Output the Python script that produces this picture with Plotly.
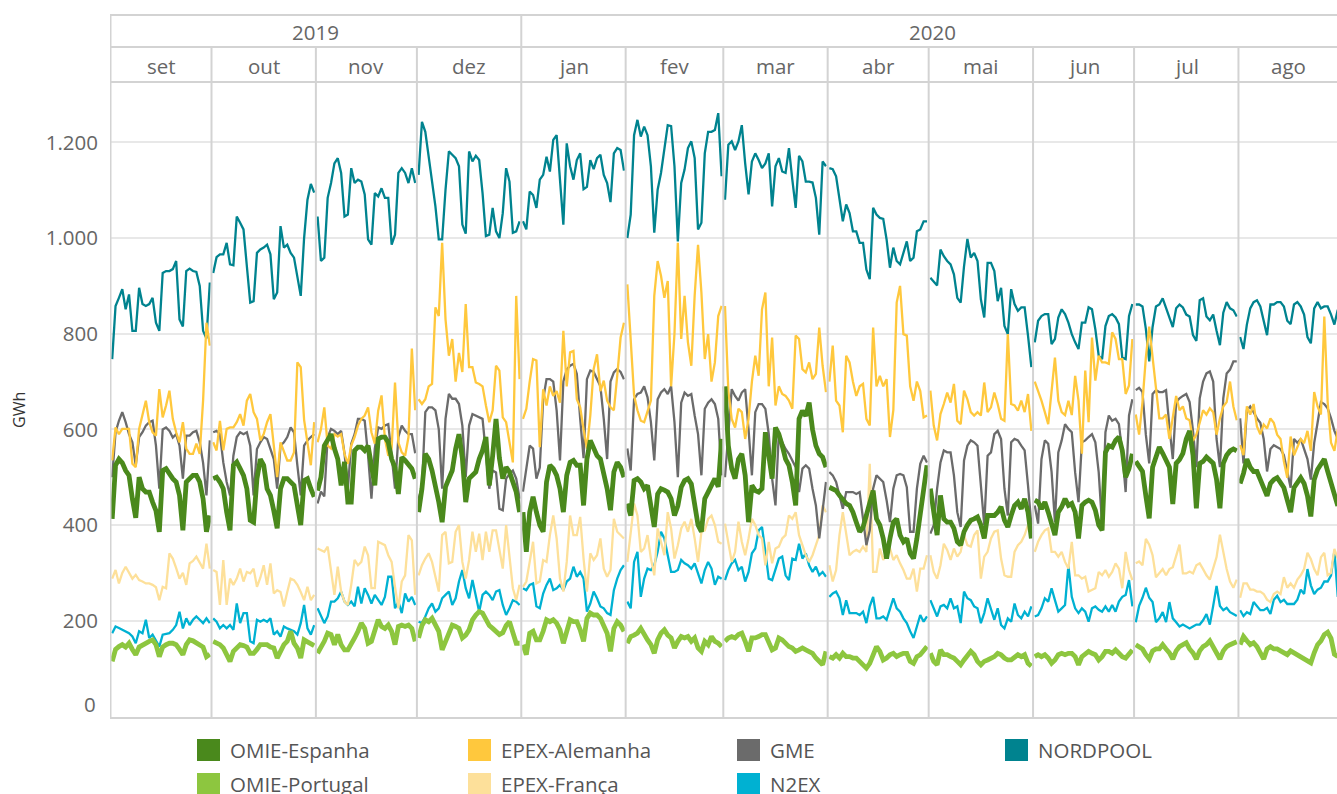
import pandas as pd
import plotly.graph_objects as go

# ---------------------------------------------------------------------------
# Daily electricity traded per market (GWh), Sep 2019 - Aug 2020
# ---------------------------------------------------------------------------
month_lengths = [30, 31, 30, 31, 31, 29, 31, 30, 31, 30, 31, 30]
month_labels = ["set", "out", "nov", "dez", "jan", "fev", "mar", "abr",
                "mai", "jun", "jul", "ago"]
year_labels = ["2019", "2020"]
y_ticks = [200, 400, 600, 800, 1000, 1200]

nordpool = [
    747, 858, 875, 893, 851, 882, 806, 806, 896, 862, 858, 862, 875, 823, 806, 927, 931, 931, 935, 952, 830, 815, 931, 936, 931, 929, 900, 806, 790, 907,
    927, 960, 966, 966, 990, 945, 943, 1045, 1032, 1018, 941, 865, 868, 969, 976, 980, 986, 966, 872, 886, 1025, 980, 986, 969, 959, 920, 879, 1000, 1080, 1113, 1095,
    1045, 952, 959, 1084, 1115, 1156, 1167, 1136, 1045, 1049, 1146, 1115, 1122, 1118, 1091, 997, 986, 1094, 1087, 1104, 1084, 1084, 986, 1007, 1136, 1146, 1136, 1115, 1146, 1115,
    1132, 1243, 1222, 1170, 1125, 1066, 997, 997, 1101, 1181, 1174, 1167, 1150, 1028, 1009, 1181, 1160, 1172, 1163, 1094, 1004, 1007, 1063, 1014, 1000, 1052, 1146, 1118, 1011, 1014, 1035,
    1035, 1018, 1097, 1090, 1063, 1122, 1132, 1170, 1139, 1205, 1215, 1129, 1028, 1198, 1150, 1122, 1163, 1177, 1102, 1107, 1163, 1144, 1167, 1174, 1132, 1115, 1075, 1177, 1188, 1184, 1141,
    1000, 1049, 1215, 1247, 1212, 1233, 1215, 1150, 1011, 1101, 1136, 1188, 1236, 1234, 1150, 993, 1115, 1143, 1188, 1202, 1167, 1018, 1032, 1177, 1222, 1222, 1226, 1261, 1129,
    1080, 1195, 1202, 1184, 1202, 1236, 1156, 1091, 1160, 1177, 1163, 1146, 1156, 1177, 1066, 1150, 1167, 1139, 1136, 1188, 1122, 1063, 1172, 1160, 1118, 1118, 1116, 1084, 1007, 1160, 1150,
    1146, 1144, 1129, 1080, 1035, 1070, 1052, 1014, 1014, 990, 990, 934, 914, 1063, 1049, 1042, 1040, 997, 938, 980, 952, 945, 970, 993, 952, 959, 1014, 1018, 1035, 1035,
    917, 910, 901, 976, 962, 952, 945, 924, 875, 865, 941, 998, 959, 969, 952, 872, 834, 948, 948, 931, 868, 896, 816, 799, 893, 862, 848, 855, 855, 796, 730,
    782, 827, 837, 841, 841, 778, 789, 834, 851, 841, 823, 799, 782, 768, 823, 823, 855, 851, 809, 754, 747, 816, 837, 841, 834, 820, 750, 747, 837, 862,
    861, 861, 857, 810, 742, 814, 857, 861, 874, 853, 836, 814, 853, 861, 855, 840, 836, 797, 785, 870, 874, 836, 828, 840, 806, 776, 844, 866, 853, 849, 836,
    793, 768, 819, 853, 866, 870, 857, 827, 797, 861, 861, 866, 866, 857, 827, 820, 861, 866, 857, 840, 793, 780, 853, 866, 853, 857, 857, 840, 819, 850,
]

epex_alemanha = [
    535, 604, 590, 601, 601, 601, 528, 521, 601, 630, 660, 615, 594, 587, 684, 625, 650, 681, 622, 594, 573, 615, 560, 549, 549, 570, 549, 660, 823, 775,
    573, 556, 618, 556, 601, 604, 604, 615, 632, 608, 660, 674, 636, 622, 577, 590, 615, 632, 566, 500, 573, 552, 535, 535, 552, 740, 730, 620, 577, 525, 615,
    573, 600, 646, 566, 560, 590, 585, 590, 549, 528, 566, 584, 608, 622, 629, 646, 594, 570, 639, 671, 580, 545, 560, 698, 573, 552, 545, 584, 769, 640,
    663, 653, 663, 690, 695, 855, 837, 990, 830, 754, 789, 700, 760, 720, 862, 730, 730, 698, 695, 690, 650, 615, 640, 733, 723, 625, 615, 573, 531, 879, 705,
    622, 643, 700, 747, 744, 563, 684, 650, 690, 670, 680, 656, 806, 690, 761, 764, 663, 646, 600, 560, 629, 726, 757, 680, 702, 660, 646, 640, 712, 792, 823,
    903, 780, 671, 640, 618, 615, 636, 660, 879, 952, 921, 875, 910, 690, 800, 990, 789, 879, 782, 733, 880, 986, 886, 747, 799, 700, 740, 837, 858,
    858, 680, 622, 604, 643, 636, 580, 622, 700, 754, 712, 851, 886, 690, 792, 650, 690, 674, 670, 660, 643, 796, 789, 726, 719, 740, 705, 716, 813, 733, 678,
    700, 775, 660, 650, 594, 754, 740, 700, 670, 690, 695, 622, 608, 813, 690, 712, 690, 705, 584, 640, 865, 900, 799, 796, 690, 660, 700, 680, 625, 629,
    681, 608, 577, 632, 653, 677, 656, 695, 618, 611, 681, 663, 636, 629, 636, 629, 698, 636, 646, 677, 653, 622, 618, 799, 653, 650, 639, 660, 636, 674, 597,
    700, 681, 660, 636, 611, 680, 750, 660, 636, 630, 660, 630, 712, 660, 549, 723, 615, 792, 702, 754, 740, 740, 737, 803, 789, 747, 747, 674, 692, 789,
    631, 589, 657, 750, 815, 750, 682, 623, 623, 631, 580, 623, 670, 640, 648, 623, 619, 576, 589, 614, 640, 631, 644, 636, 589, 623, 648, 657, 700, 648, 619,
    567, 546, 648, 631, 653, 606, 590, 610, 602, 623, 614, 589, 580, 533, 499, 585, 546, 563, 580, 571, 597, 555, 678, 648, 631, 836, 657, 572, 555, 600,
]

gme = [
    500, 594, 618, 636, 615, 590, 573, 525, 584, 594, 608, 615, 618, 566, 476, 600, 604, 597, 583, 590, 566, 497, 587, 587, 594, 597, 573, 530, 462, 577,
    594, 597, 590, 531, 490, 462, 545, 584, 594, 590, 594, 566, 462, 559, 573, 584, 580, 560, 538, 476, 566, 573, 584, 604, 594, 525, 462, 566, 577, 584, 590,
    445, 470, 460, 584, 601, 597, 590, 597, 550, 476, 570, 590, 622, 622, 618, 545, 455, 560, 604, 601, 608, 611, 545, 476, 584, 608, 597, 590, 590, 550,
    455, 480, 636, 646, 646, 640, 600, 476, 622, 674, 664, 664, 653, 608, 500, 608, 632, 629, 625, 622, 549, 476, 514, 510, 434, 431, 497, 507, 514, 497, 455,
    470, 520, 566, 560, 497, 520, 663, 705, 705, 700, 640, 535, 700, 725, 733, 737, 716, 622, 540, 705, 723, 720, 705, 690, 622, 538, 700, 719, 726, 720, 705,
    560, 514, 663, 674, 677, 690, 667, 615, 535, 663, 677, 684, 674, 690, 615, 500, 656, 677, 670, 674, 629, 590, 504, 643, 656, 663, 653, 622, 504,
    500, 600, 684, 670, 660, 677, 684, 600, 504, 636, 653, 653, 643, 590, 497, 441, 594, 573, 559, 549, 535, 521, 469, 518, 525, 518, 476, 441, 372, 427, 490,
    511, 504, 490, 462, 434, 469, 469, 469, 465, 469, 413, 358, 389, 476, 504, 497, 490, 452, 406, 476, 504, 507, 504, 479, 386, 386, 476, 528, 545, 531,
    382, 400, 476, 531, 556, 552, 552, 504, 427, 396, 535, 566, 577, 573, 566, 476, 400, 545, 552, 590, 597, 580, 476, 420, 573, 580, 577, 566, 556, 483, 400,
    441, 403, 538, 577, 570, 511, 406, 552, 577, 611, 601, 594, 510, 448, 573, 577, 584, 590, 573, 510, 400, 594, 629, 618, 622, 611, 552, 469, 629, 663,
    682, 687, 678, 589, 529, 674, 682, 678, 678, 682, 606, 538, 657, 665, 670, 674, 657, 597, 521, 665, 700, 717, 721, 700, 580, 521, 665, 717, 725, 742, 742,
    623, 529, 640, 648, 636, 623, 614, 580, 512, 559, 567, 563, 559, 546, 512, 478, 580, 572, 580, 559, 538, 495, 572, 614, 657, 653, 644, 623, 597, 580,
]

omie_espanha = [
    413, 525, 538, 530, 514, 504, 455, 415, 500, 476, 469, 469, 448, 430, 386, 514, 518, 507, 497, 490, 462, 389, 490, 497, 504, 504, 490, 455, 386, 420,
    497, 500, 490, 476, 427, 389, 525, 532, 518, 504, 476, 410, 406, 497, 538, 525, 476, 462, 430, 393, 476, 497, 497, 490, 483, 441, 400, 493, 497, 476, 459,
    472, 500, 566, 577, 590, 560, 538, 483, 532, 448, 448, 556, 563, 563, 556, 566, 530, 483, 580, 584, 584, 573, 538, 520, 465, 542, 535, 528, 518, 497,
    427, 476, 549, 538, 514, 483, 448, 406, 480, 497, 514, 559, 590, 540, 448, 497, 504, 511, 538, 556, 584, 483, 545, 622, 540, 497, 521, 511, 490, 469, 427,
    427, 344, 427, 459, 427, 400, 386, 490, 525, 518, 504, 476, 427, 504, 531, 535, 525, 525, 441, 538, 577, 559, 545, 538, 511, 476, 431, 511, 531, 521, 500,
    445, 420, 493, 497, 490, 476, 483, 434, 396, 465, 476, 473, 469, 455, 420, 440, 479, 493, 497, 486, 445, 400, 386, 455, 469, 483, 497, 480, 580,
    690, 566, 518, 497, 538, 549, 504, 406, 483, 472, 469, 476, 594, 545, 497, 604, 590, 566, 538, 525, 490, 441, 622, 639, 628, 656, 600, 566, 549, 542, 521,
    479, 476, 472, 462, 452, 445, 441, 427, 406, 386, 395, 420, 450, 472, 413, 400, 372, 330, 372, 406, 413, 379, 365, 372, 341, 330, 372, 427, 476, 525,
    476, 427, 379, 462, 413, 406, 406, 393, 365, 358, 386, 400, 410, 413, 417, 400, 372, 420, 420, 420, 427, 438, 410, 396, 420, 441, 448, 434, 455, 427, 372,
    452, 448, 434, 448, 427, 400, 379, 427, 438, 455, 441, 445, 427, 372, 441, 448, 452, 448, 431, 400, 389, 552, 566, 563, 577, 584, 556, 500, 518, 549,
    533, 521, 512, 461, 414, 521, 546, 563, 550, 533, 521, 444, 529, 537, 550, 580, 597, 546, 435, 529, 533, 542, 537, 529, 495, 435, 529, 546, 555, 559, 555,
    487, 508, 538, 521, 512, 512, 495, 478, 461, 487, 495, 499, 490, 478, 452, 427, 478, 491, 499, 487, 461, 418, 495, 516, 529, 538, 512, 487, 469, 440,
]

omie_portugal = [
    115, 140, 146, 150, 145, 153, 140, 129, 145, 150, 155, 157, 160, 150, 125, 145, 150, 153, 153, 150, 140, 129, 150, 160, 158, 153, 150, 145, 125, 130,
    157, 153, 150, 143, 130, 115, 136, 145, 150, 148, 145, 132, 132, 140, 150, 150, 150, 145, 143, 122, 136, 150, 157, 178, 153, 143, 122, 160, 156, 153, 148,
    132, 143, 157, 174, 171, 150, 171, 150, 139, 139, 150, 164, 178, 195, 184, 153, 157, 178, 202, 188, 184, 191, 178, 150, 188, 191, 188, 191, 184, 157,
    164, 190, 202, 198, 205, 190, 178, 139, 157, 178, 191, 188, 184, 164, 170, 181, 202, 212, 219, 216, 205, 190, 184, 178, 171, 175, 190, 198, 175, 153, 153,
    150, 129, 174, 178, 160, 160, 178, 202, 198, 202, 195, 181, 153, 181, 202, 198, 198, 181, 157, 205, 216, 212, 212, 205, 191, 174, 136, 184, 198, 191, 178,
    153, 167, 170, 174, 184, 170, 160, 150, 132, 160, 174, 181, 170, 164, 143, 157, 167, 164, 167, 157, 164, 143, 136, 157, 150, 167, 157, 153, 146,
    157, 164, 167, 164, 171, 174, 157, 136, 164, 164, 167, 171, 171, 157, 139, 143, 164, 160, 153, 146, 143, 136, 139, 143, 139, 136, 132, 122, 115, 108, 136,
    125, 122, 129, 122, 132, 125, 125, 122, 122, 115, 108, 101, 111, 129, 146, 136, 118, 122, 129, 132, 125, 129, 132, 132, 115, 111, 125, 129, 136, 146,
    132, 115, 108, 139, 129, 129, 125, 122, 115, 108, 118, 129, 136, 129, 115, 108, 115, 118, 122, 125, 132, 129, 122, 118, 118, 125, 129, 125, 129, 111, 105,
    125, 129, 125, 129, 122, 111, 118, 129, 132, 129, 132, 132, 125, 108, 125, 132, 136, 132, 129, 118, 125, 136, 136, 132, 139, 132, 125, 122, 129, 139,
    150, 146, 141, 129, 120, 137, 141, 141, 150, 141, 133, 120, 137, 146, 150, 154, 141, 133, 120, 137, 146, 150, 158, 146, 133, 120, 137, 146, 150, 154, 156,
    150, 167, 158, 150, 154, 146, 133, 120, 141, 146, 141, 141, 137, 133, 129, 137, 133, 129, 125, 120, 116, 112, 133, 150, 158, 171, 176, 163, 130, 125,
]

epex_franca = [
    288, 306, 278, 300, 313, 300, 288, 296, 285, 282, 278, 278, 275, 270, 243, 271, 268, 341, 330, 310, 288, 300, 275, 320, 325, 334, 320, 309, 361, 309,
    306, 302, 233, 327, 233, 288, 275, 288, 309, 282, 302, 299, 309, 271, 290, 316, 275, 320, 257, 264, 260, 230, 260, 288, 285, 275, 260, 243, 271, 243, 254,
    351, 348, 344, 355, 300, 254, 313, 261, 240, 233, 275, 327, 316, 323, 355, 337, 268, 268, 365, 362, 358, 337, 323, 271, 226, 282, 295, 379, 368, 254,
    295, 316, 330, 341, 323, 290, 261, 379, 386, 320, 323, 386, 400, 323, 288, 327, 386, 344, 382, 327, 386, 344, 389, 389, 344, 309, 400, 330, 268, 243, 275,
    271, 282, 323, 365, 278, 282, 327, 323, 379, 420, 372, 288, 261, 323, 420, 379, 379, 417, 330, 261, 341, 327, 337, 372, 309, 292, 306, 413, 386, 379, 372,
    323, 379, 445, 420, 344, 351, 379, 330, 295, 393, 365, 337, 427, 393, 330, 358, 393, 407, 386, 413, 372, 323, 386, 389, 413, 420, 400, 365, 361,
    403, 358, 323, 344, 407, 365, 337, 372, 413, 400, 379, 372, 316, 365, 320, 351, 355, 372, 379, 420, 413, 427, 379, 358, 337, 323, 337, 358, 379, 441, 427,
    316, 282, 306, 379, 427, 386, 337, 344, 348, 344, 355, 344, 528, 302, 302, 351, 327, 344, 351, 327, 337, 320, 306, 288, 288, 309, 261, 309, 309, 337,
    337, 302, 288, 316, 361, 348, 327, 351, 334, 344, 379, 358, 355, 379, 389, 288, 334, 344, 372, 386, 389, 330, 295, 292, 292, 344, 358, 365, 379, 400, 389,
    344, 365, 379, 389, 393, 344, 344, 334, 344, 323, 309, 365, 295, 295, 288, 292, 261, 264, 268, 302, 295, 306, 292, 302, 320, 309, 268, 344, 306, 285,
    320, 324, 316, 371, 359, 337, 291, 299, 308, 295, 308, 312, 337, 359, 299, 299, 303, 299, 316, 320, 308, 295, 286, 308, 333, 380, 341, 308, 282, 269, 286,
    248, 278, 278, 265, 265, 261, 261, 256, 244, 239, 256, 261, 256, 291, 269, 278, 269, 286, 295, 308, 342, 329, 308, 295, 333, 342, 295, 300, 350, 330,
]

n2ex = [
    174, 188, 185, 181, 178, 174, 167, 153, 178, 174, 202, 164, 171, 157, 146, 171, 172, 174, 181, 191, 219, 184, 205, 191, 202, 209, 202, 195, 205, 195,
    205, 198, 184, 191, 184, 191, 181, 236, 195, 216, 216, 157, 153, 202, 198, 202, 198, 205, 171, 178, 167, 188, 184, 181, 178, 171, 195, 233, 184, 171, 191,
    226, 209, 195, 209, 240, 240, 247, 261, 240, 233, 240, 230, 271, 236, 268, 254, 236, 254, 243, 233, 250, 292, 292, 226, 240, 216, 257, 240, 250, 233,
    198, 195, 209, 226, 236, 219, 226, 247, 254, 261, 233, 247, 282, 306, 268, 247, 285, 254, 219, 254, 261, 254, 243, 261, 264, 233, 212, 226, 243, 240, 233,
    268, 264, 275, 278, 230, 226, 257, 275, 288, 264, 268, 275, 264, 282, 288, 313, 292, 302, 288, 219, 236, 261, 247, 230, 226, 216, 212, 264, 288, 306, 316,
    240, 226, 323, 344, 250, 288, 309, 306, 316, 344, 386, 372, 337, 302, 302, 306, 327, 320, 316, 309, 320, 299, 278, 306, 323, 309, 275, 292, 288,
    285, 306, 320, 327, 306, 313, 282, 302, 341, 351, 389, 396, 344, 288, 285, 309, 330, 334, 295, 285, 330, 327, 361, 330, 341, 316, 302, 313, 295, 302, 292,
    250, 257, 261, 247, 212, 243, 216, 216, 216, 212, 219, 195, 230, 250, 205, 205, 209, 202, 226, 247, 226, 219, 205, 195, 178, 164, 188, 212, 198, 209,
    243, 226, 209, 230, 233, 226, 247, 226, 230, 195, 261, 247, 243, 230, 226, 195, 216, 247, 226, 202, 226, 191, 184, 205, 198, 236, 212, 205, 219, 209, 230,
    209, 212, 226, 247, 240, 268, 243, 219, 226, 233, 316, 250, 226, 216, 226, 219, 198, 226, 230, 223, 219, 230, 219, 233, 219, 240, 250, 254, 285, 230,
    197, 231, 248, 269, 248, 239, 197, 205, 218, 197, 239, 205, 197, 188, 192, 188, 184, 188, 192, 192, 201, 214, 192, 231, 273, 231, 222, 227, 218, 214, 210,
    222, 210, 218, 214, 239, 231, 222, 222, 227, 214, 244, 252, 239, 244, 235, 235, 235, 244, 265, 256, 308, 274, 256, 265, 269, 282, 282, 295, 346, 250,
]

# name, values, colour, line width -- listed in drawing order (last on top)
series = [
    ("NORDPOOL", nordpool, "#00838f", 2.3),
    ("N2EX", n2ex, "#00b1d2", 2.3),
    ("EPEX-França", epex_franca, "#fde09a", 2.3),
    ("GME", gme, "#6b6b6b", 2.3),
    ("EPEX-Alemanha", epex_alemanha, "#ffc83d", 2.3),
    ("OMIE-Portugal", omie_portugal, "#8dc63f", 4.8),
    ("OMIE-Espanha", omie_espanha, "#4a891c", 4.8),
]

# legend layout: (name, column, row)
legend_cells = [
    ("OMIE-Espanha", 0, 0), ("OMIE-Portugal", 0, 1),
    ("EPEX-Alemanha", 1, 0), ("EPEX-França", 1, 1),
    ("GME", 2, 0), ("N2EX", 2, 1),
    ("NORDPOOL", 3, 0),
]

# ---------------------------------------------------------------------------
W, H = 1337, 794
ML, MR, MT, MB = 110, 0, 82, 77
PW, PH = W - ML - MR, H - MT - MB

start = pd.Timestamp("2019-09-01")
days = pd.date_range(start, periods=sum(month_lengths), freq="D")
month_starts = [start]
for n in month_lengths[:-1]:
    month_starts.append(month_starts[-1] + pd.Timedelta(days=n))
month_starts_all = month_starts + [month_starts[-1] + pd.Timedelta(days=month_lengths[-1])]


def segmented(values):
    """One point per day at noon, with a break between consecutive months."""
    xs, ys, i = [], [], 0
    for n in month_lengths:
        for k in range(n):
            xs.append(days[i + k] + pd.Timedelta(hours=12))
            ys.append(values[i + k])
        xs.append(None)
        ys.append(None)
        i += n
    return xs, ys


fig = go.Figure()
for name, vals, color, width in series:
    xs, ys = segmented(vals)
    fig.add_trace(go.Scatter(
        x=xs, y=ys, mode="lines", name=name,
        line=dict(color=color, width=width, shape="linear"),
        connectgaps=False, showlegend=False, hoverinfo="skip",
    ))

px_per_day = 3.367
x_lo = start - pd.Timedelta(days=0.5 / px_per_day)
x_hi = x_lo + pd.Timedelta(days=PW / px_per_day)


def py(p):
    """pixel row -> paper y"""
    return (H - MB - p) / PH


def pxx(p):
    """pixel column -> paper x"""
    return (p - ML) / PW


grid_col = "#d3d3d3"
shapes = []
year_starts = {pd.Timestamp("2019-09-01"), pd.Timestamp("2020-01-01")}
for ms in month_starts:
    top = py(15) if ms in year_starts else py(47)
    shapes.append(dict(type="line", xref="x", yref="paper", x0=ms, x1=ms,
                       y0=0, y1=top, line=dict(color=grid_col, width=2)))
for yy in (15, 47, 82):
    shapes.append(dict(type="line", xref="paper", yref="paper", x0=0, x1=1,
                       y0=py(yy), y1=py(yy), line=dict(color=grid_col, width=2)))

annotations = []
text_col = "#666666"
FONT = "Open Sans"
FS = 20.5
for i, lab in enumerate(month_labels):
    mid = month_starts_all[i] + (month_starts_all[i + 1] - month_starts_all[i]) / 2
    annotations.append(dict(x=mid, y=py(66), xref="x", yref="paper", text=lab,
                            xanchor="center", yanchor="middle", showarrow=False,
                            font=dict(size=FS, color=text_col, family=FONT)))
year_bounds = [(pd.Timestamp("2019-09-01"), pd.Timestamp("2020-01-01")),
               (pd.Timestamp("2020-01-01"), pd.Timestamp("2020-09-01"))]
for lab, (a, b) in zip(year_labels, year_bounds):
    annotations.append(dict(x=a + (b - a) / 2, y=py(32), xref="x", yref="paper", text=lab,
                            xanchor="center", yanchor="middle", showarrow=False,
                            font=dict(size=FS, color=text_col, family=FONT)))

# zero label sits just above the baseline
annotations.append(dict(x=pxx(98), y=0, xref="paper", yref="y", text="0", xanchor="right",
                        yanchor="middle", yshift=12, showarrow=False,
                        font=dict(size=FS, color=text_col, family=FONT)))
annotations.append(dict(x=pxx(19), y=py(410), xref="paper", yref="paper", text="GWh",
                        textangle=-90, xanchor="center", yanchor="middle", showarrow=False,
                        font=dict(size=16, color="#333333", family=FONT)))

# legend: colour squares with labels
colors = {name: color for name, _, color, _ in series}
col_x = [197, 468, 737, 1005]
row_y = [750, 784]
for name, c, r in legend_cells:
    x0 = col_x[c]
    yc = row_y[r]
    shapes.append(dict(type="rect", xref="paper", yref="paper",
                       x0=pxx(x0), x1=pxx(x0 + 23), y0=py(yc - 11), y1=py(yc + 11),
                       fillcolor=colors[name], line=dict(width=0)))
    annotations.append(dict(x=pxx(x0 + 31), y=py(yc), xref="paper", yref="paper",
                            text=name, xanchor="left", yanchor="middle", showarrow=False,
                            font=dict(size=FS, color="#555555", family=FONT)))

fig.update_layout(
    width=W, height=H,
    margin=dict(l=ML, r=MR, t=MT, b=MB, pad=0),
    paper_bgcolor="white", plot_bgcolor="white",
    separators=",.",
    font=dict(family=FONT, color=text_col),
    showlegend=False,
    shapes=shapes, annotations=annotations,
    xaxis=dict(type="date", range=[x_lo, x_hi], showgrid=False, showticklabels=False,
               ticks="", zeroline=False, showline=True, linecolor=grid_col, linewidth=2),
    yaxis=dict(range=[-1.2, PH / 0.4784 - 1.2], tickvals=y_ticks, tickformat=",d",
               showgrid=True, gridcolor="#e8e8e8", gridwidth=1.5, zeroline=False,
               showline=False, ticks="", ticklabelstandoff=11,
               tickfont=dict(size=FS, color=text_col, family=FONT)),
)

fig.write_html("out.html")
